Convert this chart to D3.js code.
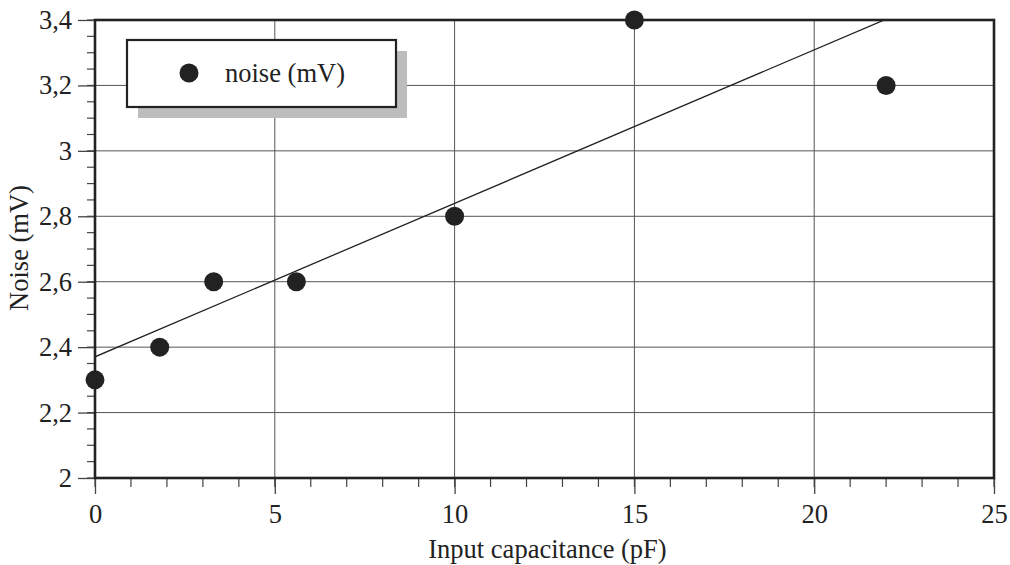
<!DOCTYPE html>
<html>
<head>
<meta charset="utf-8">
<script src="https://cdn.jsdelivr.net/npm/d3@7"></script>
<style>
  body { margin: 0; background: #fff; }
  text { font-family: "Liberation Serif", "Times New Roman", serif; fill: #222; }
</style>
</head>
<body>
<div id="chart"></div>
<script>
// data
const capacitance = [0, 1.8, 3.3, 5.6, 10, 15, 22];
const noise = [2.3, 2.4, 2.6, 2.6, 2.8, 3.4, 3.2];
const xTicks = [0, 5, 10, 15, 20, 25];
const yTicks = [2, 2.2, 2.4, 2.6, 2.8, 3, 3.2, 3.4];
const seriesName = "noise (mV)";

const margin = { top: 20, right: 16, bottom: 87, left: 95 };
const width = 1010 - margin.left - margin.right;
const height = 565 - margin.top - margin.bottom;
const fontSize = "26.5px";
const serif = "'Liberation Serif', 'Times New Roman', serif";

const svg = d3.select("#chart")
    .append("svg")
    .attr("width", 1010)
    .attr("height", 565)
    .append("g")
    .attr("transform", `translate(${margin.left},${margin.top})`);

const x = d3.scaleLinear().domain([0, 25]).range([0, width]);
const y = d3.scaleLinear().domain([2, 3.4]).range([height, 0]);

const fmt = d => String(d3.format("~g")(d)).replace(".", ",");

// grid
svg.selectAll(".gx").data(xTicks.slice(1, -1)).enter().append("line")
    .attr("x1", d => x(d)).attr("x2", d => x(d))
    .attr("y1", 0).attr("y2", height)
    .attr("stroke", "#555").attr("stroke-width", 1);
svg.selectAll(".gy").data(yTicks.slice(1, -1)).enter().append("line")
    .attr("y1", d => y(d)).attr("y2", d => y(d))
    .attr("x1", 0).attr("x2", width)
    .attr("stroke", "#555").attr("stroke-width", 1);

// minor ticks
const xMinor = d3.range(0, 25.01, 1);
const yMinor = d3.range(2, 3.401, 0.05);
svg.selectAll(".mx").data(xMinor).enter().append("line")
    .attr("x1", d => x(d)).attr("x2", d => x(d))
    .attr("y1", height).attr("y2", height + 9)
    .attr("stroke", "#444").attr("stroke-width", 1.2);
svg.selectAll(".my").data(yMinor).enter().append("line")
    .attr("y1", d => y(d)).attr("y2", d => y(d))
    .attr("x1", -8).attr("x2", 0)
    .attr("stroke", "#444").attr("stroke-width", 1.2);

// axes with major ticks
const xAxis = svg.append("g")
    .attr("transform", `translate(0,${height})`)
    .call(d3.axisBottom(x).tickValues(xTicks).tickSize(16).tickFormat(d3.format("d")));
const yAxis = svg.append("g")
    .call(d3.axisLeft(y).tickValues(yTicks).tickSize(17).tickFormat(fmt));
[xAxis, yAxis].forEach(a => {
    a.attr("font-size", null).attr("font-family", serif);
    a.select(".domain").remove();
    a.selectAll(".tick line").attr("stroke", "#444").attr("stroke-width", 1.3);
    a.selectAll(".tick text")
        .style("font-family", serif)
        .style("font-size", fontSize)
        .attr("fill", "#222");
});
xAxis.selectAll(".tick text").attr("y", 45).attr("dy", 0);
yAxis.selectAll(".tick text").attr("x", -23).attr("y", 8.5).attr("dy", 0);

// regression line
const mx = d3.mean(capacitance), my = d3.mean(noise);
const slope = d3.sum(capacitance, (c, i) => (c - mx) * (noise[i] - my)) / d3.sum(capacitance, c => (c - mx) ** 2);
const intercept = my - slope * mx;
svg.append("clipPath").attr("id", "clip").append("rect").attr("width", width).attr("height", height);
svg.append("line")
    .attr("clip-path", "url(#clip)")
    .attr("x1", x(0)).attr("y1", y(intercept))
    .attr("x2", x(25)).attr("y2", y(intercept + slope * 25))
    .attr("stroke", "#222").attr("stroke-width", 1.3);

// frame
svg.append("rect")
    .attr("width", width).attr("height", height)
    .attr("fill", "none").attr("stroke", "#222").attr("stroke-width", 2.6);

// points
svg.selectAll(".pt").data(capacitance).enter().append("circle")
    .attr("cx", d => x(d))
    .attr("cy", (d, i) => y(noise[i]))
    .attr("r", 9.5)
    .attr("fill", "#222");

// legend
const lg = svg.append("g").attr("transform", `translate(${127 - margin.left},${40 - margin.top})`);
lg.append("rect").attr("x", 11).attr("y", 11).attr("width", 269).attr("height", 67).attr("fill", "#bdbdbd");
lg.append("rect").attr("width", 269).attr("height", 67).attr("fill", "#fff").attr("stroke", "#222").attr("stroke-width", 2.2);
lg.append("circle").attr("cx", 62).attr("cy", 33).attr("r", 9.5).attr("fill", "#222");
lg.append("text").attr("x", 98).attr("y", 42).style("font-size", fontSize).text(seriesName);

// axis titles
svg.append("text")
    .attr("x", (428 + 667) / 2 - margin.left).attr("y", 558 - margin.top)
    .attr("text-anchor", "middle").style("font-size", fontSize)
    .text("Input capacitance (pF)");
svg.append("text")
    .attr("transform", "rotate(-90)")
    .attr("x", -(248 - margin.top)).attr("y", 28 - margin.left)
    .attr("text-anchor", "middle").style("font-size", fontSize)
    .text("Noise (mV)");
</script>
</body>
</html>
